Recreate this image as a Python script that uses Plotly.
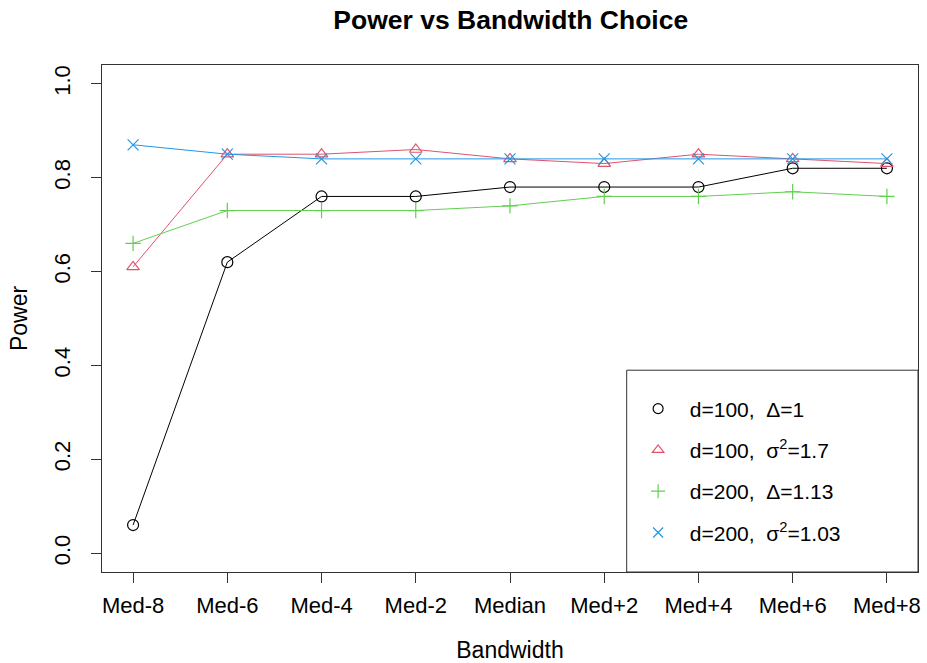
import plotly.graph_objects as go

bandwidths = ['Med-8', 'Med-6', 'Med-4', 'Med-2', 'Median', 'Med+2', 'Med+4', 'Med+6', 'Med+8']

power_d100_delta = [0.06, 0.62, 0.76, 0.76, 0.78, 0.78, 0.78, 0.82, 0.82]
power_d100_sigma = [0.61, 0.85, 0.85, 0.86, 0.84, 0.83, 0.85, 0.84, 0.83]
power_d200_delta = [0.66, 0.73, 0.73, 0.73, 0.74, 0.76, 0.76, 0.77, 0.76]
power_d200_sigma = [0.87, 0.85, 0.84, 0.84, 0.84, 0.84, 0.84, 0.84, 0.84]

NB = '\u00a0'
series = [
    (f'{NB*2}d=100,{NB*2}Δ=1', power_d100_delta, 'black', 'circle-open'),
    (f'{NB*2}d=100,{NB*2}σ<sup>2</sup>=1.7', power_d100_sigma, '#DF536B', 'triangle-up-open'),
    (f'{NB*2}d=200,{NB*2}Δ=1.13', power_d200_delta, '#61D04F', 'cross-thin-open'),
    (f'{NB*2}d=200,{NB*2}σ<sup>2</sup>=1.03', power_d200_sigma, '#2297E6', 'x-thin-open'),
]

FONT = 'Liberation Sans, Arial, Helvetica, sans-serif'
xs = list(range(len(bandwidths)))

fig = go.Figure()
for i, (name, vals, color, symbol) in enumerate(series):
    fig.add_trace(go.Scatter(
        x=xs, y=vals, mode='lines+markers', showlegend=False,
        line=dict(color=color, width=1),
        marker=dict(symbol=symbol, size=11, color=color, line=dict(color=color, width=1.2)),
    ))
    # legend-only entry with just the symbol, like R's legend(pch=...)
    fig.add_trace(go.Scatter(
        x=[None], y=[None], mode='markers', name=name, legendgroup=str(i),
        marker=dict(symbol=symbol, size=10, color=color, line=dict(color=color, width=1.2)),
    ))

fig.add_shape(type='rect', xref='paper', yref='paper',
              x0=0.643, x1=1.0, y0=0, y1=0.398,
              line=dict(color='#333333', width=1), fillcolor='white', layer='below')

fig.update_layout(
    width=927, height=663,
    margin=dict(l=102, r=9, t=65, b=91),
    paper_bgcolor='white', plot_bgcolor='white',
    font=dict(family=FONT, size=22, color='black'),
    title=dict(text='<b>Power vs Bandwidth Choice</b>', x=0.551, xanchor='center',
               y=0.971, yanchor='middle', font=dict(size=26.5)),
    legend=dict(x=0.657, y=0.362, xanchor='left', yanchor='top',
                bgcolor='rgba(0,0,0,0)', borderwidth=0, tracegroupgap=11,
                font=dict(size=21)),
    showlegend=True,
)

fig.update_xaxes(
    range=[-0.33, 8.33], tickvals=xs, ticktext=bandwidths, automargin=False,
    ticks='outside', ticklen=10, tickcolor='#333333', ticklabelstandoff=4,
    showline=True, mirror=True, linecolor='#333333', linewidth=1,
    showgrid=False, zeroline=False,
    title=dict(text='Bandwidth', standoff=31, font=dict(size=23)),
)
fig.update_yaxes(
    range=[-0.04, 1.04], tickvals=[0, 0.2, 0.4, 0.6, 0.8, 1.0], automargin=False,
    ticktext=['0.0', '0.2', '0.4', '0.6', '0.8', '1.0'], tickangle=-90,
    ticks='outside', ticklen=10, tickcolor='#333333', ticklabelstandoff=12,
    showline=True, mirror=True, linecolor='#333333', linewidth=1,
    showgrid=False, zeroline=False,
    title=dict(text='Power', standoff=16, font=dict(size=23)),
)

fig.write_html('out.html', config={'displayModeBar': False},
               post_script="document.body.style.margin='0';")
